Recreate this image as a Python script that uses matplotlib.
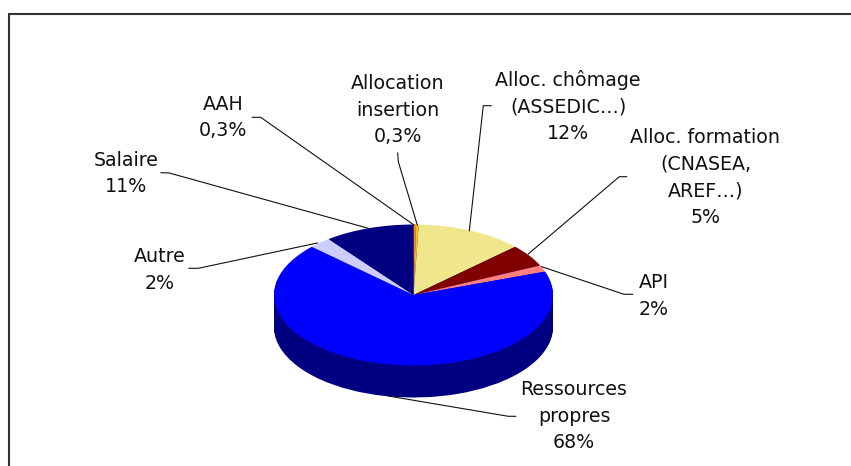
import matplotlib
matplotlib.use("Agg")
import matplotlib.pyplot as plt
import numpy as np

# clockwise from 12 o'clock
labels = ["AAH\n0,3%", "Allocation\ninsertion\n0,3%", "Alloc. chômage\n(ASSEDIC…)\n12%",
          "Alloc. formation\n(CNASEA,\nAREF…)\n5%", "API\n2%", "Ressources\npropres\n68%",
          "Autre\n2%", "Salaire\n11%"]
values = [0.3, 0.3, 12.4, 5.1, 1.5, 67.3, 2.6, 10.4]  # slice sizes
colors = ["#FF8C00", "#FFC020", "#F0E68C", "#800000", "#FF8080", "#0000FF", "#CCCCFF", "#000080"]
side_color = "#000080"

# label centres in pixels
label_x = [222.8, 397.5, 568, 705.5, 654, 574, 159.5, 126]
label_y = [117.5, 110, 106.5, 177.5, 296, 416, 270, 173.5]

# leader lines in pixels, label end first
leaders = [
    [(252.3, 117.3), (260.7, 117.3), (414, 225)],
    [(397.7, 153), (398.3, 161.7), (417.3, 225)],
    [(491, 105.7), (483.3, 105.7), (469.3, 230.7)],
    [(626.7, 176.7), (619.3, 176.7), (528.3, 254)],
    [(632.7, 294.3), (624, 294.3), (541.7, 266.7)],
    [(515.7, 416.3), (508.3, 416.3), (388.3, 396)],
    [(189, 268.3), (198.3, 268.3), (317.3, 243)],
    [(161, 172.7), (169.3, 173), (368.3, 228.3)],
]

W, H = 851, 466
CX, CY = 413.5, 295
RX, RY = 139.5, 70.5
DEPTH = 32

fig = plt.figure(figsize=(W / 100, H / 100), dpi=100)

# pie axes: one data unit is RX wide and RY high, so the circle comes out flat
top_px = CY - RY
bottom_px = CY + RY + DEPTH
pie_ax = fig.add_axes([(CX - RX) / W, 1 - bottom_px / H, 2 * RX / W, (bottom_px - top_px) / H])
for dy in np.arange(DEPTH, 0, -1):
    pie_ax.pie(values, colors=[side_color] * len(values), startangle=90, counterclock=False,
               center=(0, -dy / RY), wedgeprops={"linewidth": 0})
pie_ax.pie(values, colors=colors, startangle=90, counterclock=False,
           wedgeprops={"linewidth": 0})
pie_ax.set_aspect("auto")
pie_ax.set_xlim(-1, 1)
pie_ax.set_ylim(-1 - DEPTH / RY, 1)
pie_ax.axis("off")

# overlay in pixel coordinates for the frame, leaders and labels
ax = fig.add_axes([0, 0, 1, 1], facecolor="none")
ax.set_xlim(0, W)
ax.set_ylim(H, 0)
ax.axis("off")

ax.plot([9.3, 9.3, W], [H, 14, 14], color="#333333", lw=1.5, solid_joinstyle="miter")

for pts in leaders:
    xs, ys = zip(*pts)
    ax.plot(xs, ys, color="#111111", lw=0.8)

for text, x, y in zip(labels, label_x, label_y):
    ax.text(x, y, text, ha="center", va="center", fontsize=13.7, color="#111111",
            family="DejaVu Sans", linespacing=1.53)

fig.savefig("out.png", dpi=100)
